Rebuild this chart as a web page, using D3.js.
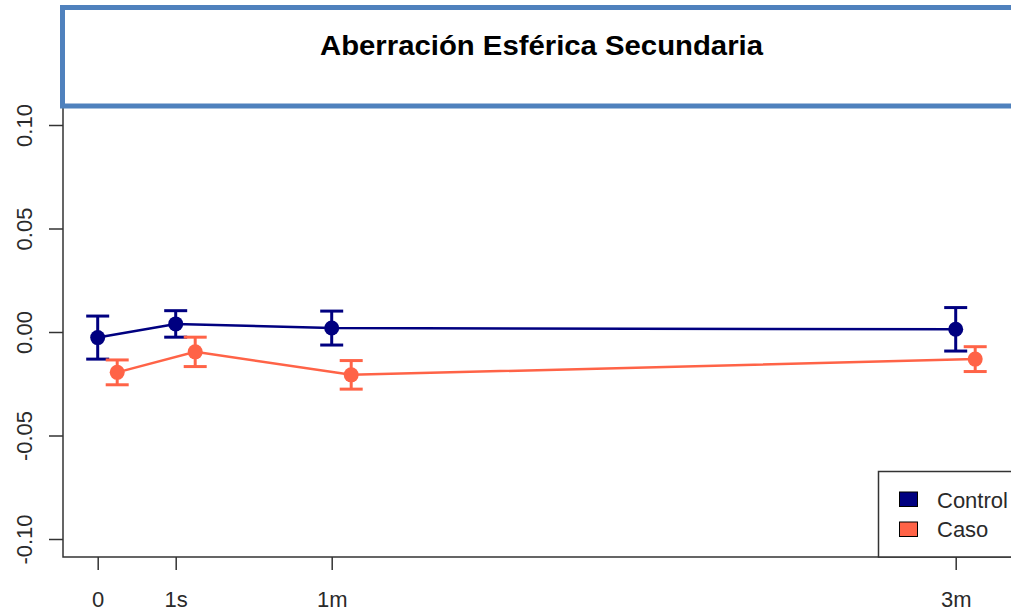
<!DOCTYPE html>
<html>
<head>
<meta charset="utf-8">
<script src="https://cdn.jsdelivr.net/npm/d3@7"></script>
<style>
  body { margin: 0; background: #fff; }
  text { font-family: "Liberation Sans", Arial, sans-serif; }
</style>
</head>
<body>
<svg></svg>
<script>
const svg_width = 1011;
const svg_height = 614;

const timeLabels = ["0", "1s", "1m", "3m"];
const timePos = [0, 1, 3, 11];
const seriesNames = ["Control", "Caso"];
const seriesColors = ["#000080", "#FF6347"];
const controlMean = [-0.0027, 0.0039, 0.0019, 0.0013];
const controlErr = [0.0104, 0.0064, 0.0082, 0.0105];
const casoMean = [-0.0195, -0.0096, -0.0207, -0.0131];
const casoErr = [0.0060, 0.0071, 0.0069, 0.0060];
const yTicks = [-0.10, -0.05, 0.00, 0.05, 0.10];
const casoOffset = 0.25;

const svg = d3.select("svg")
    .attr("width", svg_width)
    .attr("height", svg_height);

const xScale = d3.scaleLinear()
    .domain([0, 11])
    .range([97.7, 955.7]);

const yScale = d3.scaleLinear()
    .domain([-0.10, 0.10])
    .range([539, 125]);

const axisColor = "#333";
const labelColor = "#2a2a2a";

// L-shaped box (bty = "l")
svg.append("path")
    .attr("d", `M63,100 V557 H1015`)
    .attr("fill", "none")
    .attr("stroke", axisColor)
    .attr("stroke-width", 1.5);

// y axis
const yAxis = d3.axisLeft(yScale)
    .tickValues(yTicks)
    .tickSize(14)
    .tickFormat(d3.format(".2f"));

const yg = svg.append("g")
    .attr("transform", "translate(63,0)")
    .call(yAxis);
yg.select(".domain").remove();
yg.selectAll(".tick line").attr("stroke", axisColor).attr("stroke-width", 1.5);
yg.selectAll(".tick text")
    .attr("x", 0).attr("dy", 0)
    .attr("transform", "translate(-31,0) rotate(-90)")
    .attr("text-anchor", "middle")
    .attr("fill", labelColor)
    .style("font-size", "22px")
    .text(d => d3.format(".2f")(d).replace("−", "-"));

// x axis
const xAxis = d3.axisBottom(xScale)
    .tickValues(timePos)
    .tickSize(13)
    .tickFormat((d, i) => timeLabels[i]);

const xg = svg.append("g")
    .attr("transform", "translate(0,557)")
    .call(xAxis);
xg.select(".domain").remove();
xg.selectAll(".tick line").attr("stroke", axisColor).attr("stroke-width", 1.5);
xg.selectAll(".tick text")
    .attr("y", 50).attr("dy", 0)
    .attr("fill", labelColor)
    .style("font-size", "22px");

// series
const series = [
    { name: seriesNames[0], color: seriesColors[0], mean: controlMean, err: controlErr, off: 0 },
    { name: seriesNames[1], color: seriesColors[1], mean: casoMean, err: casoErr, off: casoOffset }
];

const line = d3.line()
    .x(d => xScale(d.x))
    .y(d => yScale(d.m));

series.forEach(s => {
    const pts = timePos.map((t, i) => ({ x: t + s.off, m: s.mean[i], e: s.err[i] }));
    const g = svg.append("g");

    g.append("path")
        .datum(pts)
        .attr("d", line)
        .attr("fill", "none")
        .attr("stroke", s.color)
        .attr("stroke-width", 2.5);

    const bars = g.selectAll(".err")
        .data(pts)
        .enter()
        .append("g");

    bars.append("line")
        .attr("x1", d => xScale(d.x)).attr("x2", d => xScale(d.x))
        .attr("y1", d => yScale(d.m + d.e)).attr("y2", d => yScale(d.m - d.e))
        .attr("stroke", s.color).attr("stroke-width", 3);
    bars.append("line")
        .attr("x1", d => xScale(d.x) - 11.5).attr("x2", d => xScale(d.x) + 11.5)
        .attr("y1", d => yScale(d.m + d.e)).attr("y2", d => yScale(d.m + d.e))
        .attr("stroke", s.color).attr("stroke-width", 3);
    bars.append("line")
        .attr("x1", d => xScale(d.x) - 11.5).attr("x2", d => xScale(d.x) + 11.5)
        .attr("y1", d => yScale(d.m - d.e)).attr("y2", d => yScale(d.m - d.e))
        .attr("stroke", s.color).attr("stroke-width", 3);
    bars.append("circle")
        .attr("cx", d => xScale(d.x))
        .attr("cy", d => yScale(d.m))
        .attr("r", 7.5)
        .attr("fill", s.color);
});

// title box
svg.append("rect")
    .attr("x", 62.5).attr("y", 7.5)
    .attr("width", 980).attr("height", 98.5)
    .attr("fill", "#fff")
    .attr("stroke", "#4F81BD")
    .attr("stroke-width", 5);

svg.append("text")
    .attr("x", 541.5).attr("y", 55)
    .attr("text-anchor", "middle")
    .attr("textLength", 443)
    .attr("lengthAdjust", "spacingAndGlyphs")
    .style("font-size", "27px")
    .style("font-weight", "bold")
    .attr("fill", "#000")
    .text("Aberración Esférica Secundaria");

// legend
const legend = svg.append("g");
legend.append("rect")
    .attr("x", 878.5).attr("y", 471.5)
    .attr("width", 200).attr("height", 85.5)
    .attr("fill", "#fff")
    .attr("stroke", axisColor)
    .attr("stroke-width", 1.5);

series.forEach((s, i) => {
    legend.append("rect")
        .attr("x", 899.5).attr("y", 492 + i * 30)
        .attr("width", 18).attr("height", 14.5)
        .attr("fill", s.color)
        .attr("stroke", "#000")
        .attr("stroke-width", 1);
    legend.append("text")
        .attr("x", 937).attr("y", 508 + i * 29)
        .attr("fill", labelColor)
        .style("font-size", "22px")
        .text(s.name);
});
</script>
</body>
</html>
